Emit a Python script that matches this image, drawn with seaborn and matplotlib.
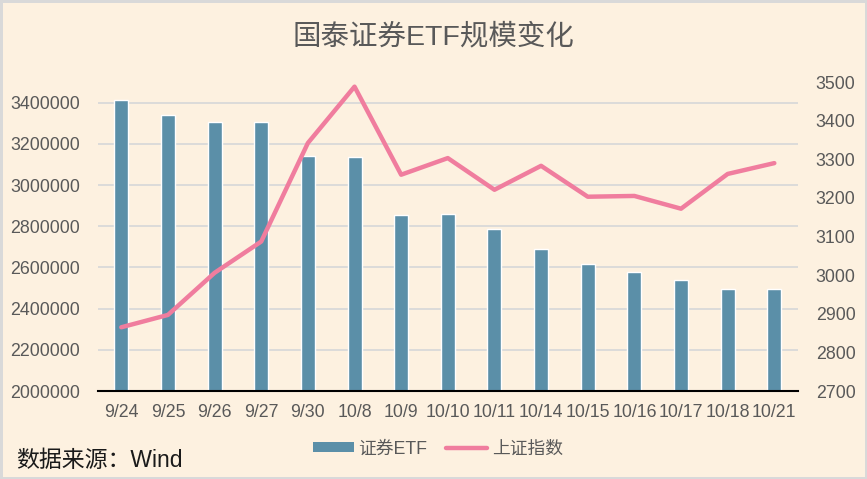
import matplotlib
matplotlib.use("Agg")
import matplotlib.pyplot as plt
import seaborn as sns
import pandas as pd
import numpy as np
from matplotlib.patches import Patch
from matplotlib.lines import Line2D

dates = ["9/24", "9/25", "9/26", "9/27", "9/30", "10/8", "10/9", "10/10",
         "10/11", "10/14", "10/15", "10/16", "10/17", "10/18", "10/21"]
etf_scale = [3413000, 3340000, 3306000, 3306000, 3141000, 3136000, 2854000, 2859000,
             2786000, 2689000, 2617000, 2578000, 2539000, 2495000, 2495000]
sh_index = [2865, 2897, 3006, 3087, 3342, 3488, 3260, 3303,
            3221, 3283, 3203, 3205, 3172, 3262, 3290]
left_ticks = [2000000, 2200000, 2400000, 2600000, 2800000, 3000000, 3200000, 3400000]
right_ticks = [2700, 2800, 2900, 3000, 3100, 3200, 3300, 3400, 3500]

BG = "#FDF1E0"
BAR = "#5B8FA8"
LINE = "#F07D9E"
TXT = "#595959"

sns.set_theme(style="white")
plt.rcParams['font.family'] = ['Liberation Sans', 'Noto Sans CJK SC', 'DejaVu Sans']

df = pd.DataFrame({"date": dates, "etf": etf_scale, "idx": sh_index})

fig = plt.figure(figsize=(8.67, 4.79), dpi=100, facecolor=BG)
fig.patch.set_edgecolor("#D9D9D9")
fig.patch.set_linewidth(2.5)
ax = fig.add_axes([0.113, 0.1837, 0.807, 0.6451])
ax.set_facecolor(BG)

sns.barplot(data=df, x="date", y="etf", color=BAR, width=0.3, ax=ax,
            saturation=1, zorder=2)
ax.set_ylim(2000000, 3500000)
ax.set_xlim(-0.5, len(dates) - 0.5)
ax.set_yticks(left_ticks)
ax.set_yticklabels([str(v) for v in left_ticks])
ax.grid(axis="y", color="#D9D9D9", linewidth=1.3, zorder=0)
ax.set_axisbelow(True)
ax.set_xlabel("")
ax.set_ylabel("")

ax2 = ax.twinx()
sns.lineplot(data=df, x="date", y="idx", color=LINE, linewidth=3.2, ax=ax2,
             sort=False, zorder=3)
ax2.set_ylim(2700, 3500)
ax2.set_yticks(right_ticks)
ax2.set_xlim(-0.5, len(dates) - 0.5)
ax2.set_ylabel("")
ax2.set_xlabel("")

for a in (ax, ax2):
    for s in ("left", "right", "top", "bottom"):
        a.spines[s].set_visible(False)
ax.spines["bottom"].set_visible(True)
ax.spines["bottom"].set_color("black")
ax.spines["bottom"].set_linewidth(1.5)

ax.tick_params(axis="y", length=0, labelsize=12.8, labelcolor=TXT, pad=13)
ax2.tick_params(axis="y", length=0, labelsize=12.8, labelcolor=TXT, pad=13)
ax.set_xticks(range(len(dates)))
ax.set_xticklabels(dates)
ax.tick_params(axis="x", which="major", length=0, labelsize=12.8, labelcolor=TXT, pad=9)
ax.set_xticks(np.arange(-0.5, len(dates), 1.0), minor=True)
ax.tick_params(axis="x", which="minor", length=4, width=1.5, color="black", direction="out")

fig.text(0.5, 0.922, "国泰证券ETF规模变化", ha="center", va="center",
         fontsize=20.5, color=TXT)

handles = [Patch(facecolor=BAR, edgecolor="none"),
           Line2D([0], [0], color=LINE, linewidth=3.2, solid_capstyle="round")]
fig.legend(handles, ["证券ETF", "上证指数"], loc="center", bbox_to_anchor=(0.505, 0.063),
           ncol=2, frameon=False, fontsize=12.8, labelcolor=TXT, handlelength=2.3,
           handleheight=0.55, columnspacing=1.05, handletextpad=0.28)

fig.text(0.019, 0.038, "数据来源：Wind", ha="left", va="center", fontsize=16.5, color="#1a1a1a")

fig.savefig("out.png", dpi=100, facecolor=BG, edgecolor="#D9D9D9")
